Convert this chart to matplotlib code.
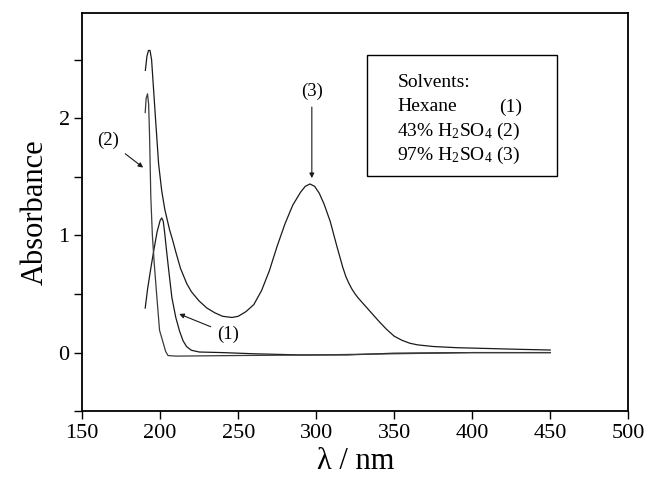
import matplotlib
matplotlib.use("Agg")
import matplotlib.pyplot as plt
from matplotlib.patches import Rectangle
from matplotlib.ticker import MultipleLocator

plt.rcParams["font.family"] = ["Liberation Serif", "DejaVu Serif"]
plt.rcParams["mathtext.fontset"] = "custom"
plt.rcParams["mathtext.rm"] = "Liberation Serif"
plt.rcParams["mathtext.it"] = "Liberation Serif:italic"

# (1) hexane
wl_hexane = [190.4, 192, 194, 196, 198, 200, 201, 202, 203, 204, 205.5, 207.5, 210,
             212.5, 214.7, 217, 220, 225, 240, 260, 290, 320, 350, 400, 450]
abs_hexane = [0.38, 0.55, 0.72, 0.88, 1.03, 1.13, 1.15, 1.12, 1.01, 0.88, 0.70, 0.47, 0.30,
              0.18, 0.10, 0.05, 0.02, 0.005, 0.0, -0.01, -0.02, -0.02, -0.005, 0.0, 0.0]

# (2) 43% H2SO4
wl_h2so4_43 = [190.4, 191, 191.9, 192.6, 193.2, 194, 195, 196.2, 197.9, 199.6, 202, 203.5,
               205, 210, 250, 300, 350, 400, 450]
abs_h2so4_43 = [2.05, 2.17, 2.21, 2.12, 1.85, 1.33, 1.0, 0.76, 0.47, 0.19, 0.08, 0.01,
                -0.025, -0.03, -0.025, -0.02, -0.01, 0.0, 0.0]

# (3) 97% H2SO4
wl_h2so4_97 = [190.5, 191.5, 192.5, 193.5, 194.5, 195.5, 197, 199, 201, 203, 206, 208, 210,
               213, 217, 220, 225, 230, 235, 240, 246, 250, 255, 260, 265, 270, 275, 280,
               285, 290, 293, 296, 299, 302, 305, 309, 313, 317, 319, 321, 323, 325, 327,
               330, 333, 336, 340, 345, 350, 355, 360, 365, 375, 390, 410, 430, 450]
abs_h2so4_97 = [2.41, 2.53, 2.58, 2.58, 2.50, 2.30, 2.00, 1.61, 1.38, 1.22, 1.05, 0.96, 0.86,
                0.72, 0.59, 0.52, 0.44, 0.38, 0.34, 0.31, 0.30, 0.31, 0.35, 0.41, 0.53, 0.70,
                0.91, 1.10, 1.26, 1.37, 1.42, 1.44, 1.42, 1.36, 1.27, 1.12, 0.92, 0.73, 0.65,
                0.59, 0.54, 0.50, 0.465, 0.42, 0.375, 0.33, 0.27, 0.20, 0.14, 0.105, 0.08,
                0.066, 0.052, 0.042, 0.035, 0.028, 0.022]

x_ticks = [150, 200, 250, 300, 350, 400, 450, 500]

fig = plt.figure(figsize=(6.47, 4.82), dpi=100)
ax = fig.add_axes([0.127, 0.147, 0.844, 0.826])

line_kw = dict(color="#1a1a1a", linewidth=0.9)
ax.plot(wl_hexane, abs_hexane, **line_kw)
ax.plot(wl_h2so4_43, abs_h2so4_43, color="#3a3a3a", linewidth=0.9)
ax.plot(wl_h2so4_97, abs_h2so4_97, **line_kw)

arrow = dict(arrowstyle="-|>", color="#1a1a1a", lw=0.8, mutation_scale=7,
             shrinkA=3, shrinkB=0)
ax.annotate("(2)", xy=(189.1, 1.58), xytext=(166.7, 1.81), fontsize=13.5,
            ha="center", va="center", arrowprops=arrow)
ax.annotate("(3)", xy=(297.2, 1.49), xytext=(297.2, 2.23), fontsize=13.5,
            ha="center", va="center", arrowprops=arrow)
ax.annotate("(1)", xy=(212.2, 0.33), xytext=(243.6, 0.16), fontsize=13.5,
            ha="center", va="center", arrowprops=arrow)

# legend box
ax.add_patch(Rectangle((0.522, 0.590), 0.348, 0.304, transform=ax.transAxes,
                       facecolor="white", edgecolor="black", linewidth=1.0))
legend_lines = ["Solvents:", "Hexane", "43% H$_2$SO$_4$ (2)", "97% H$_2$SO$_4$ (3)"]
for i, txt in enumerate(legend_lines):
    ax.text(0.577, 0.825 - i * 0.061, txt, transform=ax.transAxes, fontsize=14,
            va="center", ha="left")
ax.text(0.763, 0.825 - 0.061, "(1)", transform=ax.transAxes, fontsize=14,
        va="center", ha="left")

ax.set_xlim(150, 500)
ax.set_ylim(-0.5, 2.9)
ax.set_xticks(x_ticks)
ax.yaxis.set_major_locator(MultipleLocator(0.5))
ax.set_yticklabels([str(int(v)) if float(v).is_integer() else "" for v in ax.get_yticks()])
ax.tick_params(direction="out", length=6, width=1.0, labelsize=16, pad=3)
for s in ax.spines.values():
    s.set_linewidth(1.3)

ax.set_xlabel("λ / nm", fontsize=22, labelpad=3)
ax.set_ylabel("Absorbance", fontsize=22, labelpad=6)

fig.savefig("out.png", dpi=100)
